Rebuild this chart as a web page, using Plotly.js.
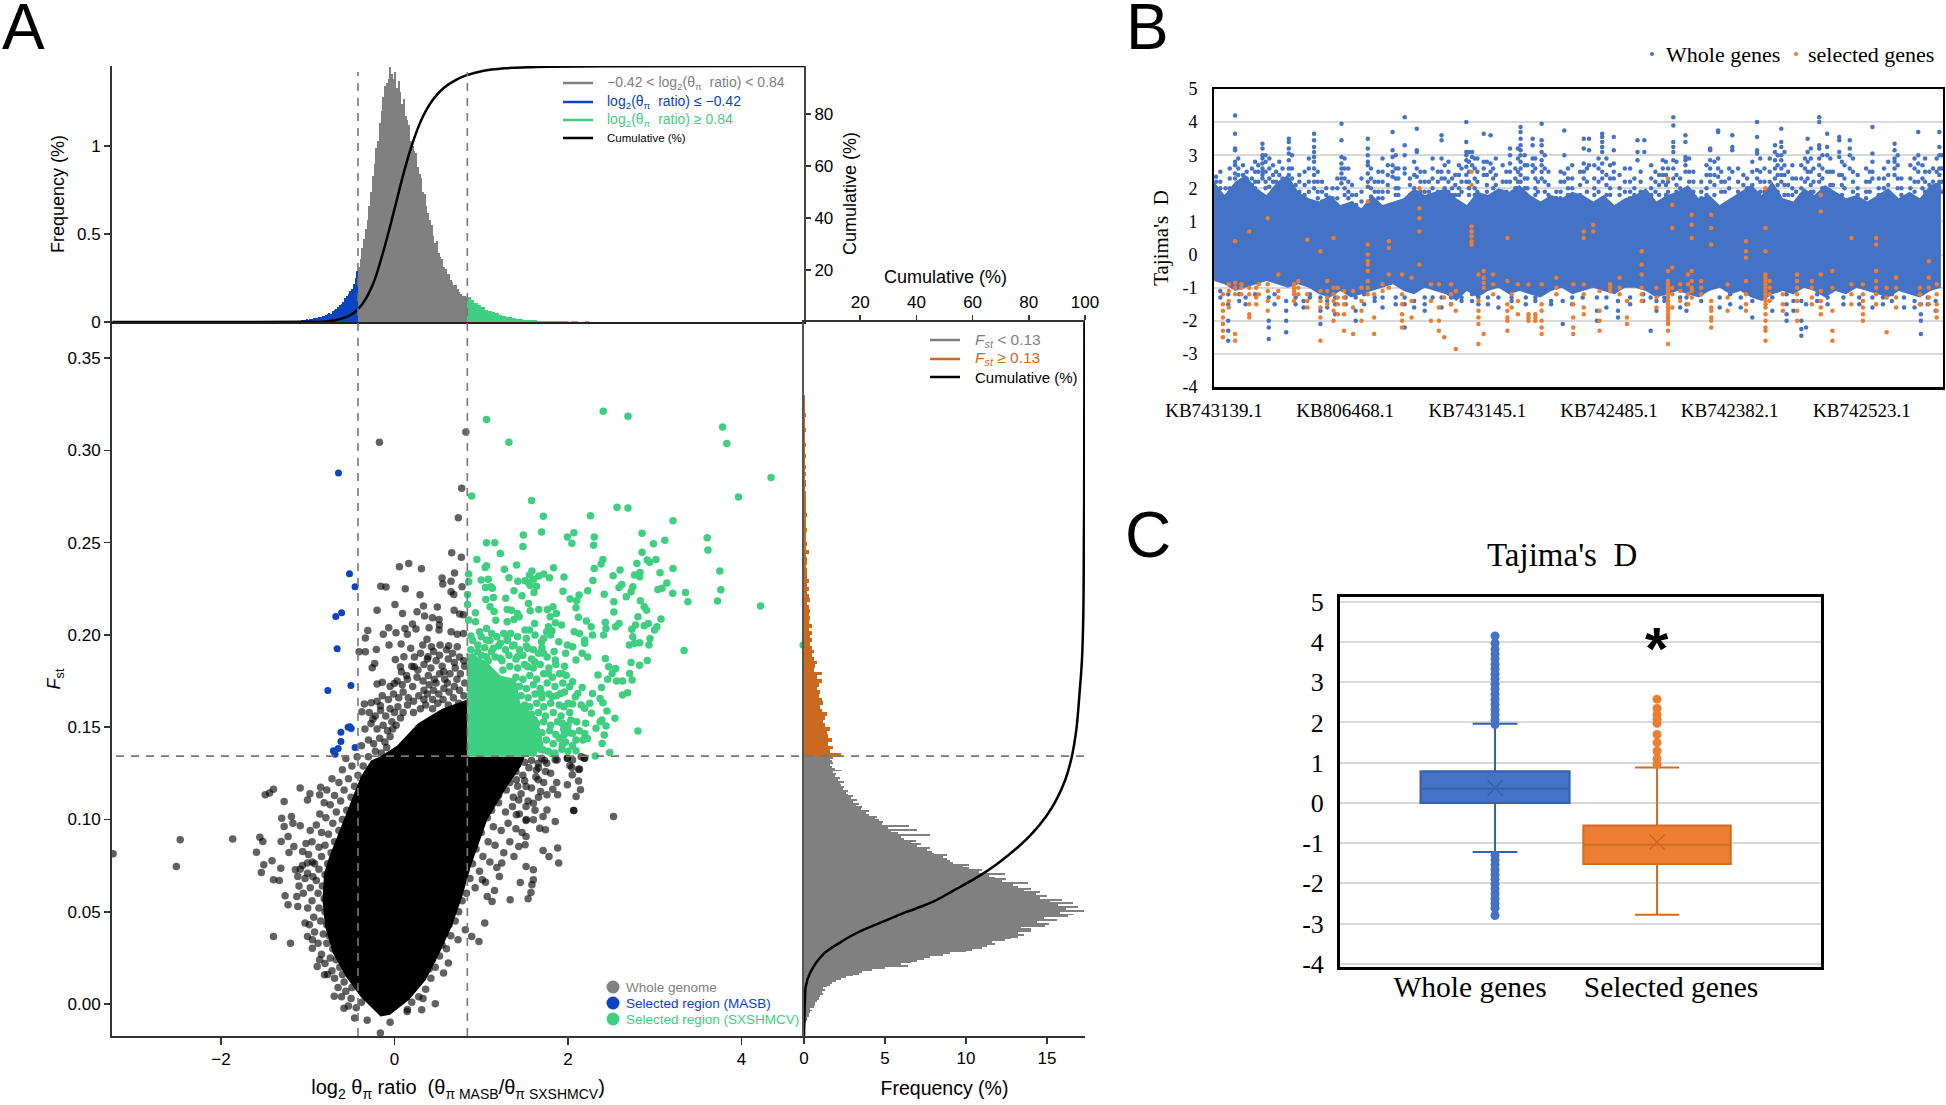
<!DOCTYPE html>
<html><head><meta charset="utf-8">
<script src="https://cdn.plot.ly/plotly-3.0.1.min.js"></script>
<style>html,body{margin:0;padding:0;background:#fff}#p{width:1946px;height:1105px}</style>
</head><body><div id="p"></div>
<script>
// ---------- Panel A: top histogram (% frequency of log2 theta-pi ratio) ----------
const topGrayStart=-0.42, topBlueStart=-1.30, topGreenStart=0.84;
const topGray=[.31,.36,.42,.47,.53,.58,.66,.74,.83,.90,.99,1.03,1.13,1.2,1.28,1.34,1.36,1.38,1.45,1.41,1.38,1.42,1.33,1.37,1.31,1.24,1.27,1.17,1.15,1.12,1.03,1.0,.97,.96,.88,.84,.82,.74,.73,.66,.62,.58,.55,.49,.45,.46,.39,.37,.36,.31,.30,.27,.27,.24,.23,.21,.21,.19,.17,.16,.15,.15,.14];
const topBlue=[.002,.003,.002,.004,.003,.005,.004,.006,.005,.008,.007,.010,.009,.012,.015,.013,.018,.016,.022,.025,.021,.03,.028,.035,.032,.04,.045,.05,.048,.06,.07,.075,.085,.095,.105,.115,.135,.145,.16,.175,.19,.215,.25,.29];
const topGreen=[.14,.125,.11,.095,.085,.07,.06,.055,.05,.04,.035,.03,.028,.022,.018,.017,.013,.012,.009,.011,.007,.006,.008,.005,.004,.006,.003,.004,.003,.002,.003,.004,.002,.002,.003,.001,.002,.001,.002,.001,.001,.002,.001,.001];
const topCumX=[-3.25,-1.0,-.754,-.50,-.374,-.248,-.121,.005,.10,.195,.32,.447,.574,.70,.827,1.016,1.27,1.52,1.775,2.40,4.72];
const topCumY=[0,.05,.26,2.8,6.7,14.5,28,44,56.5,67.5,78.5,85.7,90.2,93,94.9,96.6,97.6,98,98.2,98.4,98.5];
// ---------- Panel A: right histogram (% frequency of Fst) ----------
const rightGrayStart=-0.010, rightOrangeStart=0.134;
const rightGray=[.1,.2,.2,.3,.3,.4,.5,.4,.6,.7,
.7,.8,.9,.9,1.0,1.2,1.1,1.3,1.2,1.4,
1.6,1.7,2.0,2.3,2.6,3.0,3.4,3.6,4.2,5.0,
6.4,6.0,6.6,7.0,7.4,7.8,8.6,9.0,10.0,10.4,
11.0,11.3,11.8,11.6,12.4,12.8,13.2,13.6,13.2,14.0,
14.0,13.4,14.9,15.1,14.4,15.6,14.8,16.3,16.6,15.8,
17.3,16.2,16.9,15.7,16.6,15.2,15.9,14.6,15.0,14.3,
14.6,13.6,14.0,13.2,12.9,13.8,12.2,12.5,11.8,11.4,
12.4,10.8,11.0,10.2,9.8,10.2,9.2,9.0,8.8,8.6,
8.8,8.0,7.9,7.6,7.8,7.0,7.2,6.6,6.9,6.2,
6.0,7.8,5.8,5.4,7.0,5.2,6.5,4.8,4.9,4.6,
4.4,4.5,4.0,3.8,4.0,3.5,3.6,3.2,3.4,3.0,
3.3,2.9,3.0,2.7,2.6,2.7,2.4,2.5,2.3,2.2,
2.5,2.1,2.2,1.9,2.0,1.8,2.3,1.9,1.7,1.6,
1.8,1.7,1.6,1.8];
const rightOrange=[2.3,1.6,1.8,1.5,1.7,1.5,1.4,1.6,1.3,1.2,
1.3,1.4,1.1,1.0,1.2,1.1,.9,1.0,.8,.9,
1.1,.8,1.1,.6,.7,.8,.6,.5,.6,.5,
.4,.5,.4,.5,.3,.5,.3,.4,.3,.4,
.3,.2,.4,.3,.2,.3,.2,.3,.2,.2,
.2,.1,.2,.2,.1,.3,.1,.2,.1,.1,
.1,.2,.1,.1,.1,.2,.1,.1,.1,.1,
.1,.1,.05,.1,.1,.05,.1,.05,.1,.05,
.05,.1,.05,.05,.1,.05,.05,.05,.1,.05,
.05,.05,.1,.05,.05,.05,.05,.05];
const rightCumF=[-.0175,.0032,.0094,.0167,.0271,.0333,.0385,.0451,.0499,.0555,.0613,.0686,.0758,.0852,.0925,.1018,.1101,.1215,.134,.1485,.1692,.1859,.2108,.2523,.273,.3695];
const rightCumV=[0,.35,.6,2.1,6.9,12.8,18.7,28.8,36.5,46,53,61.5,68.6,76.3,81.2,86.2,89.6,93,95.3,96.9,98.1,98.9,99.4,99.6,99.7,99.8];
// ---------- Panel A: main scatter (log2 ratio, Fst) ----------
const denseBlack=[[-.05,-.0058],[.17,.0023],[.36,.013],[.52,.0276],[.66,.042],[.78,.058],[.88,.0745],[1.07,.1],[1.3,.118],[1.46,.129],[1.5,.134],[1.22,.134],[.84,.134],[.84,.165],[.55,.16],[.27,.152],[.03,.14],[-.17,.134],[-.27,.132],[-.39,.123],[-.5,.11],[-.61,.096],[-.69,.087],[-.75,.08],[-.81,.071],[-.83,.0565],[-.8,.042],[-.71,.0276],[-.56,.015],[-.39,.004],[-.16,-.0067]];
const blackPts=[[-.173,.3044],[.823,.3099],[.775,.2795],[.736,.2635],[.66,.2445],[.771,.242],[.057,.2369],[.165,.2387],[.311,.2358],[.692,.2335],[.549,.2308],[.652,.2291],[.557,.2275],[.779,.2261],[.652,.2234],[.684,.2219],[-.157,.2263],[-.097,.2259],[.125,.225],[.295,.2217],[.006,.2165],[.335,.2156],[.494,.2151],[-.2,.2133],[.093,.2116],[.26,.2125],[.347,.2102],[.438,.2093],[.688,.2133],[.752,.2113],[.795,.2109],[.514,.2084],[.518,.2053],[.514,.2026],[.399,.2039],[.653,.2017],[.724,.2003],[.795,.2008],[-.066,.2039],[.018,.2012],[-.129,.2003],[-.307,.2024],[-.335,.1983],[.121,.2035],[.208,.2059],[.248,.2032],[.149,.2003],[.375,.1976],[.526,.1945],[.427,.1936],[.327,.1945],[.077,.195],[-.062,.1945],[.188,.1927],[.625,.1941],[.724,.1936],[-.208,.1921],[-.407,.1909],[-.335,.1909],[.01,.1867],[.109,.1882],[.387,.1882],[-.228,.1845],[-.256,.1822],[.069,.1827],[.228,.1827],[-.2,.1734],[-.14,.1743],[-.002,.1737],[-.347,.1625],[-.268,.1632],[-.161,.1616],[-.375,.1584],[-.248,.1544],
[1.874,.1322],[1.993,.1331],[2.053,.1322],[2.152,.134],[2.192,.1331],[2.045,.1282],[2.124,.1271],[1.755,.1304],[1.696,.1331],[1.636,.1268],
[-3.242,.0814],[-2.469,.089],[-2.514,.0745],[-1.864,.0894],[-1.551,.0904],[-1.517,.0881],[-1.59,.0823],[-1.489,.1134],[-1.439,.1143],[-1.394,.1164],[-1.086,.117],[-.851,.1175],[-.974,.1139],[-1.002,.1106],[-.862,.1134],[-1.271,.1097],[-1.299,.1007],[-1.187,.1016],[-1.271,.0962],[-1.17,.098],[-1.086,.0966],[-1.226,.0908],[-1.305,.0881],[-1.159,.0854],[-1.215,.0821],[-1.058,.0827],[-1.411,.0776],[-1.506,.0755],[-1.534,.0713],[-1.31,.0736],[-1.394,.0673],[-1.327,.067],[-1.142,.0727],[-1.086,.0731],[-1.002,.0764],[-.946,.0769],[-1.002,.0709],[-1.114,.0691],[-1.26,.0587],[-1.125,.0583],[-1.226,.0538],[-1.114,.0529],[-1.394,.0366],[-1.198,.033],[-1.03,.0439],[-1.002,.0366],[-.946,.0303],[-.862,.024],[-.89,.0204],[-.946,.0348],[-.806,.0159],[-.694,.0042],[-.582,-.0022],[-.459,-.0076],[-.314,-.0088],[-.05,-.0099],[-.162,-.0157],[.47,.0002],[.314,-.0031],[.146,-.004],
[.974,.0339],[1.041,.0439],[.89,.0366],[.817,.0403],[.733,.0348],[.621,.0222],[.566,.0168],[1.333,.0565],[1.54,.057],[1.573,.0605],[1.45,.0659],[1.601,.0673],[1.584,.0646],[1.125,.0556],[1.069,.0583],[1.153,.0615],[1.209,.0691],[1.013,.0673],[1.601,.0727],[1.517,.0745],[1.377,.08],[1.237,.0764],[1.433,.0854],[1.893,.0764],[1.881,.0845],[1.781,.08],[1.713,.0832],[1.506,.0863],[1.517,.0908],[1.853,.0989],[1.741,.0944],[1.674,.0953],[1.713,.1016],[1.601,.0998],[1.517,.0995],[1.405,.1025],[2.525,.1016],[2.066,.1049],[2.066,.1049],[1.758,.1052],[1.601,.1088],[1.517,.107],[1.433,.1106],[2.144,.1161],[2.094,.1125],[1.993,.1188],[1.881,.1134],[1.825,.1164],[1.758,.1134],[1.685,.1152],[2.122,.1209],[2.049,.1242],[2.133,.1273],[2.021,.1292],[2.189,.1332],[1.741,.126],[1.657,.1215],[1.517,.1179],[1.405,.1215],[1.853,.1323],[1.993,.1332],[1.657,.1305]];
const blackHaloLeft=[[-.5,.003],[-.44,-.002],[-.38,.001],[-.56,.007],[-.49,.009],[-.61,.004],[-.53,-.001],[-.58,.012],[-.65,.009],[-.6,.016],[-.69,.014],[-.63,.02],[-.72,.018],[-.77,.016],[-.67,.024],[-.74,.025],[-.8,.022],[-.71,.03],[-.78,.033],[-.84,.027],[-.75,.037],[-.82,.038],[-.88,.033],[-.78,.043],[-.85,.045],[-.92,.039],[-.8,.05],[-.87,.052],[-.93,.047],[-.98,.043],[-.81,.057],[-.88,.06],[-.95,.056],[-1.0,.052],[-.83,.064],[-.9,.067],[-.97,.063],[-1.05,.06],[-.8,.07],[-.87,.073],[-.94,.069],[-1.03,.068],[-1.1,.064],[-.77,.076],[-.84,.08],[-.92,.076],[-.99,.081],[-1.06,.075],[-.73,.082],[-.8,.086],[-.87,.085],[-.95,.088],[-1.02,.087],[-.69,.088],[-.76,.092],[-.84,.093],[-.9,.097],[-.97,.094],[-.64,.094],[-.71,.098],[-.79,.101],[-.86,.103],[-.6,.1],[-.67,.104],[-.74,.108],[-.81,.109],[-.55,.105],[-.62,.11],[-.69,.113],[-.78,.116],[-.5,.112],[-.58,.116],[-.64,.12],[-.72,.122],[-.46,.118],[-.53,.122],[-.6,.127],[-.42,.124],[-.49,.129],[-.56,.133],[-.36,.129],[-.43,.134]];
const blackHaloTop=[[-.3,.134],[-.22,.137],[-.15,.136],[-.09,.139],[-.38,.14],[-.3,.143],[-.24,.141],[-.17,.144],[-.11,.142],[-.05,.145],[-.02,.149],[-.34,.149],[-.27,.152],[-.2,.149],[-.13,.151],[-.08,.148],[-.03,.153],[.02,.151],[.07,.155],[-.29,.158],[-.22,.156],[-.16,.159],[-.1,.156],[-.05,.16],[0,.158],[.04,.161],[.1,.158],[.15,.162],[-.2,.164],[-.14,.167],[-.07,.165],[-.01,.168],[.05,.166],[.1,.169],[.16,.166],[.22,.164],[.28,.167],[.34,.17],[.4,.173],[-.05,.172],[.03,.175],[.09,.173],[.15,.176],[.21,.172],[.26,.177],[.33,.175],[.39,.178],[.46,.176],[.52,.179],[.58,.176],[.64,.179],[.7,.182],[.76,.179],[.81,.183],[.08,.18],[.14,.178],[.2,.183],[.27,.181],[.34,.184],[.42,.182],[.48,.186],[.55,.183],[.62,.187],[.69,.185],[.75,.188],[.8,.186],[.23,.188],[.3,.19],[.38,.187],[.45,.191],[.52,.189],[.6,.192],[.67,.19],[.3,.16],[.36,.162],[.44,.16],[.5,.163],[.56,.165],[.62,.162],[.68,.166],[.74,.163],[.8,.167],[.38,.168],[.45,.17],[.51,.168],[.57,.171],[.63,.169],[.69,.172],[.75,.17],[.81,.174],[.22,.158],[.48,.174],[.57,.18],[.72,.176],[.34,.165],[.44,.165],[.61,.174]];
const blackHaloRight=[[.2,.001],[.28,.004],[.15,-.003],[.36,.008],[.42,.014],[.33,.003],[.4,.019],[.47,.02],[.52,.026],[.44,.024],[.55,.032],[.6,.03],[.65,.037],[.58,.038],[.63,.043],[.7,.045],[.74,.05],[.68,.052],[.78,.056],[.72,.058],[.83,.06],[.78,.066],[.87,.068],[.93,.063],[.82,.072],[.9,.076],[.98,.072],[1.05,.066],[.86,.082],[.94,.084],[1.02,.08],[1.1,.077],[1.18,.074],[.92,.09],[1.0,.093],[1.08,.088],[1.16,.086],[1.26,.082],[1.33,.088],[.98,.098],[1.07,.101],[1.14,.096],[1.23,.094],[1.31,.098],[1.4,.095],[1.47,.093],[1.12,.105],[1.2,.109],[1.28,.104],[1.36,.107],[1.44,.103],[1.52,.1],[1.2,.113],[1.29,.116],[1.37,.112],[1.46,.114],[1.54,.11],[1.62,.105],[1.33,.12],[1.42,.118],[1.5,.121],[1.58,.117],[1.66,.112],[1.4,.126],[1.48,.124],[1.55,.128],[1.63,.123],[1.72,.12],[1.5,.131],[1.58,.132],[1.66,.128],[1.73,.132],[1.8,.125],[1.87,.12]];
const bluePts=[[-.645,.2877],[-.518,.2331],[-.454,.2261],[-.609,.212],[-.676,.21],[-.66,.1925],[-.502,.1726],[-.768,.1699],[-.514,.1502],[-.498,.1493],[-.534,.1499],[-.617,.1473],[-.617,.1423],[-.454,.139],[-.649,.1385],[-.704,.1372],[-.684,.1354]];
const denseGreen=[[.84,.134],[1.55,.134],[1.72,.14],[1.65,.155],[1.45,.163],[1.4,.176],[1.22,.178],[1.05,.186],[.84,.19]];
const greenPts=[[1.061,.3167],[2.406,.3212],[2.691,.3185],[3.782,.3126],[3.83,.3037],[1.319,.3043],[4.34,.2853],[3.965,.2747],[.89,.2752],[1.58,.2728],[2.565,.2691],[2.691,.2687],[1.716,.2642],[2.259,.2645],[3.211,.2618],[1.696,.2557],[1.485,.2541],[2.068,.2553],[1.993,.253],[2.303,.253],[2.854,.255],[3.116,.2512],[3.604,.2526],[3.612,.246],[1.061,.2499],[1.156,.2499],[1.481,.2479],[2.045,.2497],[2.295,.2485],[2.985,.2494],[1.22,.2441],[2.854,.2447],[.95,.2409],[2.914,.2405],[2.941,.2394],[3.013,.2409],[2.402,.2409],[2.382,.2384],[2.794,.2387],[1.406,.2378],[1.061,.2375],[1.045,.2365],[1.834,.2364],[2.303,.236],[3.211,.236],[1.267,.2355],[2.6,.2351],[3.75,.2346],[3.06,.2337],[.855,.233],[1.585,.2346],[1.557,.2324],[1.72,.233],[1.664,.2319],[1.954,.2313],[2.52,.232],[2.83,.2338],[2.767,.2324],[2.826,.2315],[1.319,.231],[1.787,.231],[1.604,.2302],[1.0,.2297],[1.081,.2301],[.855,.2288],[1.422,.229],[1.505,.2293],[1.545,.2282],[1.565,.2268],[2.287,.2295],[3.139,.2281],[3.084,.2252],[3.036,.2246],[2.62,.2273],[2.588,.2257],[2.747,.2261],[2.727,.2234],[1.049,.2257],[1.109,.2261],[1.128,.2252],[1.636,.2264],[1.378,.2239],[1.608,.223],[1.942,.2236],[2.227,.2239],[2.128,.2216],[3.207,.2225],[3.354,.223],[3.762,.2245],[2.418,.222],[.843,.2219],[1.47,.2212],[2.671,.2207],[1.14,.2203],[1.053,.2192],[1.283,.2198],[2.025,.2194],[2.1,.2185],[3.382,.218],[3.723,.2183],[2.834,.2185],[2.878,.2152],[2.906,.2134],[2.529,.218],[.843,.2165],[1.545,.217],[1.101,.2152],[1.148,.2127],[2.092,.2147],[4.22,.2156],[1.827,.2152],[1.763,.2138],[1.866,.2116],[1.299,.2138],[1.347,.2134],[1.418,.2116],[1.664,.2138],[1.565,.2131],[2.529,.2124],[.934,.212],[2.806,.2098],[2.12,.2095],[1.795,.2098],[3.072,.2086],[2.925,.2062],[2.878,.205],[3.025,.2044],[2.997,.2026],[.855,.208],[.934,.2071],[1.168,.2079],[1.299,.2071],[1.378,.2084],[1.438,.2098],[1.616,.2062],[1.854,.2066],[1.926,.2053],[2.211,.2075],[2.267,.2044],[2.43,.2068],[2.438,.2035],[2.588,.2062],[2.549,.2044],[2.779,.2053],[2.735,.203],[1.775,.2044],[1.755,.2017],[1.815,.2022],[1.505,.2026],[1.557,.2026],[1.061,.2035],[.982,.2017],[1.121,.2008],[1.26,.2008],[1.339,.2008],[2.072,.2017],[2.132,.2008],[2.192,.1972],[2.283,.2],[2.41,.2],[2.747,.199],[2.767,.1954],[.882,.1994],[.962,.1945],[1.061,.1972],[1.22,.1954],[1.299,.198],[1.14,.1927],[1.378,.1945],[1.537,.1927],[1.696,.1963],[1.894,.1963],[1.993,.1945],[2.053,.1936],[2.192,.1954],[2.945,.1981],[2.826,.1958],[2.933,.1945],[2.707,.1945],[3.338,.1916],[4.71,.1945],[1.716,.19],[1.973,.19],[2.164,.19],[2.227,.188],[2.43,.1872],[2.469,.1827],[2.549,.1818],[2.509,.1791],[2.727,.1851],[2.826,.1836],[2.914,.1861],[.902,.1882],[1.061,.1882],[1.22,.1873],[1.418,.1882],[1.616,.1855],[1.854,.1864],[2.092,.1864],[2.711,.1791],[2.739,.1755],[2.628,.175],[2.56,.175],[2.457,.1759],[2.346,.1782],[1.934,.1791],[2.053,.1746],[1.775,.1791],[1.537,.1827],[2.386,.1715],[2.164,.1715],[2.112,.1683],[2.084,.1665],[2.283,.1683],[2.687,.1687],[2.628,.1674],[2.37,.1656],[2.402,.1632],[1.914,.1683],[1.815,.1665],[1.696,.1683],[2.152,.162],[2.192,.1602],[2.251,.1629],[2.271,.1575],[2.053,.1625],[1.954,.1611],[2.449,.1587],[2.541,.1548],[2.39,.1539],[2.37,.153],[2.203,.1521],[2.323,.1494],[2.438,.1506],[2.033,.1539],[1.934,.1521],[1.993,.1494],[2.806,.1479],[2.192,.1466],[2.418,.1457],[2.394,.1412],[2.053,.1466],[1.954,.1457],[2.092,.143],[2.172,.143],[2.223,.1439],[2.481,.1363],[2.092,.1372],[2.314,.1344],[1.934,.1403],[1.815,.1358],[1.577,.1363],[1.716,.1376]];
const greenDense=[[1.6,.136],[1.68,.138],[1.77,.137],[1.85,.136],[1.93,.138],[2.0,.137],[1.75,.143],[1.83,.141],[1.9,.144],[1.97,.142],[2.05,.14],[1.7,.147],[1.79,.148],[1.86,.146],[1.95,.149],[2.02,.147],[2.13,.148],[1.64,.152],[1.72,.153],[1.8,.151],[1.88,.153],[2.0,.151],[2.1,.153],[1.58,.157],[1.66,.158],[1.74,.156],[1.83,.158],[1.92,.156],[2.02,.158],[1.5,.162],[1.56,.161],[1.64,.163],[1.72,.161],[1.8,.163],[1.9,.162],[2.0,.163],[1.46,.167],[1.54,.166],[1.62,.168],[1.7,.166],[1.78,.168],[1.87,.167],[1.96,.169],[1.44,.172],[1.52,.171],[1.6,.173],[1.68,.171],[1.76,.174],[1.85,.172],[1.94,.174],[2.02,.172],[1.4,.177],[1.48,.176],[1.56,.178],[1.64,.176],[1.72,.179],[1.82,.177],[1.9,.179],[1.98,.178],[1.25,.181],[1.33,.183],[1.42,.182],[1.5,.184],[1.6,.182],[1.68,.184],[1.78,.182],[1.86,.184],[1.96,.183],[.92,.187],[1.0,.189],[1.08,.186],[1.16,.188],[1.24,.186],[1.32,.189],[1.4,.187],[1.48,.189],[1.58,.187],[1.66,.19],[1.76,.188],[.88,.192],[.96,.191],[1.04,.193],[1.12,.191],[1.2,.194],[1.28,.192],[1.36,.194],[1.44,.192],[1.52,.194],[1.6,.192],[1.7,.193],[1.84,.191],[.9,.197],[1.0,.199],[1.1,.197],[1.18,.199],[1.3,.197],[1.42,.199],[1.52,.198],[1.62,.2],[1.72,.198],[1.8,.2]];
// ---------- Panel B: Tajima's D along the genome ----------
const bandStep=20;
const bandTop=[2.2,1.8,2.2,2.4,2.0,1.8,2.2,2.4,1.9,1.7,1.6,1.8,1.5,1.6,1.4,1.8,1.5,1.6,1.7,2.0,1.8,1.9,2.0,1.7,1.5,1.9,1.8,2.0,1.9,2.1,1.8,1.6,1.8,1.7,1.9,1.8,1.6,1.8,1.5,1.7,1.8,2.0,1.6,1.8,1.9,2.1,1.7,1.8,1.5,1.7,1.9,2.1,1.8,2.2,1.7,1.6,2.0,1.8,2.1,1.9,1.7,1.8,1.6,1.8,2.0,1.7,1.9,1.7,2.1,2.2];
const bandBottom=[-.8,-.9,-1.1,-1.0,-.9,-.8,-.9,-1.0,-.9,-1.0,-1.2,-1.3,-1.1,-1.3,-1.2,-1.1,-1.0,-.9,-1.1,-1.2,-1.0,-1.1,-1.2,-1.4,-1.1,-1.3,-1.1,-1.0,-1.2,-1.1,-1.2,-1.3,-1.1,-1.0,-1.2,-1.1,-1.0,-1.1,-1.2,-1.0,-1.0,-1.1,-1.3,-1.2,-1.1,-1.2,-1.3,-1.1,-1.0,-1.2,-1.1,-1.3,-1.4,-1.2,-1.1,-1.2,-1.0,-1.1,-1.3,-1.1,-1.2,-1.0,-1.1,-1.2,-1.3,-1.1,-1.2,-1.3,-1.1,-1.0];
const wholeStreaks=[[40,[4.2,3.65,3.2,3.15,2.8,2.7,2.45,2.3]],[92,[3.35,3.2,3.0,2.9,2.75,2.6,2.5,2.4,2.3]],[142,[3.5,3.4,3.2,3.05,2.85,2.6,2.4,2.2,2.05]],[190,[3.65,3.45,3.25,3.1,2.95,2.8,2.6,2.4,2.2,2.0]],[242,[3.95,3.45,2.95,2.75,2.6,2.45,2.3,2.15]],[292,[3.5,3.2,3.0,2.8,2.7,2.45,2.2,2.05]],[339,[3.7,3.15,2.95,2.7,2.5,2.35]],[362,[4.15,3.3,3.0,2.6,2.45]],[385,[3.8,3.1,3.15,2.6,2.35]],[432,[3.6,3.45,2.9,2.5,2.3]],[479,[4.0,3.4,3.1,3.0,2.85,2.65,2.4,2.2]],[490,[3.1,2.95,2.7]],[512,[3.65,2.8,2.6,2.4]],[525,[3.6,2.75,2.5]],[562,[3.2,3.0,2.75,2.5,2.2]],[582,[3.85,3.7,3.5,3.3,3.15,3.0,2.8,2.6,2.4,2.2]],[605,[3.5,3.3,2.9,2.7,2.5]],[622,[3.95,3.45,3.3,3.1,2.85,2.7,2.5,2.3]],[665,[3.75,3.0,2.45,2.2]],[702,[3.5,3.2,2.75,2.5,2.3]],[712,[3.5,3.15,2.7]],[737,[3.65,3.55,3.4,3.25,3.1,2.75,2.5,2.3]],[759,[3.55,3.15,2.75,2.5,2.3]],[804,[3.45,3.1,2.85]],[817,[3.45,3.1]],[852,[2.85,2.6,2.4,2.2]],[872,[4.15,3.9,3.4,3.25,3.1,2.85,2.6,2.3]],[895,[3.6,3.4,2.95,2.85,2.7,2.5]],[942,[3.2,3.15,2.85,2.6,2.4,2.2]],[957,[3.75,3.7,2.9,2.6,2.35]],[984,[3.6,3.25,3.15,2.5]],[1031,[4.0,3.55,3.15,3.05,2.55,2.3]],[1077,[3.8,3.4,3.25,3.0,2.85,2.6,2.4,2.2]],[1065,[3.3,3.1,2.85,2.6,2.3]],[1127,[3.5,3.1,2.8,2.5,2.3]],[1149,[4.15,4.0,3.3,3.2,2.9,2.7,2.4,2.2]],[1164,[3.65,3.25,3.0,2.5]],[1187,[3.55,3.45,3.1,2.95,2.4]],[1207,[3.45,3.2,3.0,2.6]],[1250,[3.85,3.05,2.8,2.5,2.3]],[1292,[3.35,3.15,2.9,2.8,2.6,2.4]],[1337,[3.7,3.0,2.75,2.5,2.2]],[1377,[3.7,3.25,3.0,2.6,2.4,2.2]],
[4,[2.2,1.95,2.35]],[12,[2.5,2.2,2.0]],[22,[2.0,1.75,1.6]],[30,[2.6,2.3,2.0,1.8]],[46,[2.9,2.6,2.4,2.1,1.9]],[55,[2.7,2.4,2.2,2.0]],[62,[2.5,2.3,2.0]],[72,[2.6,2.3,2.1,1.9]],[78,[2.8,2.5,2.2,2.0]],[84,[2.7,2.5,2.2,1.9]],[98,[3.0,2.8,2.5,2.2,2.0]],[105,[2.9,2.6,2.3,2.05,1.8]],[112,[2.7,2.4,2.2,1.9]],[118,[2.5,2.2,1.9,1.75]],[124,[2.8,2.4,2.1,1.9]],[130,[2.6,2.3,2.0,1.8]],[148,[3.0,2.6,2.3,2.0]],[155,[2.1,1.9,1.7]],[162,[2.4,2.2,1.9]],[172,[2.5,2.1,1.8]],[180,[2.9,2.6,2.2,1.9]],[197,[2.5,2.2,1.9,1.7]],[205,[2.2,1.9,1.6]],[213,[2.0,1.8,1.55]],[225,[2.0,1.7,1.5]],[234,[2.3,2.0,1.7]],[248,[2.9,2.6,2.3,2.0,1.8]],[255,[2.6,2.2,1.9,1.7]],[262,[2.1,1.8,1.55]],[270,[1.8,1.5]],[280,[2.3,1.9,1.6]],[298,[2.6,2.3,2.0,1.75]],[305,[2.2,1.9,1.6]],[312,[2.5,2.2,1.9,1.7]],[320,[2.9,2.5,2.2,1.9,1.7]],[330,[2.7,2.4,2.1,1.9]],[345,[3.0,2.6,2.3,2.0,1.8]],[350,[2.6,2.3,2.0,1.8]],[372,[2.3,2.1,1.8]],[380,[2.8,2.4,2.0,1.8]],[392,[2.5,2.2,1.9]],[400,[2.5,2.2,1.9,1.7]],[408,[2.2,1.9,1.7]],[415,[2.9,2.6,2.3,2.0,1.8]],[425,[2.5,2.2,1.9]],[438,[2.7,2.3,2.0,1.8]],[445,[2.8,2.5,2.2,1.9,1.7]],[452,[2.3,2.0,1.8]],[458,[2.4,2.1,1.8]],[465,[2.7,2.4,2.0,1.8]],[470,[2.6,2.2,1.9]],[484,[3.1,2.8,2.5,2.2,2.0,1.8]],[495,[2.9,2.6,2.3,2.0,1.8]],[500,[2.9,2.5,2.2,1.9]],[518,[2.8,2.4,2.1,1.9]],[530,[2.6,2.3,2.0,1.8]],[535,[2.9,2.4,2.1,1.8]],[548,[2.7,2.2,1.9]],[555,[2.5,2.2,1.9]],[572,[2.6,2.3,2.0,1.8]],[577,[3.2,2.9,2.5,2.2,2.0]],[590,[3.0,2.7,2.3,2.0,1.8]],[595,[2.7,2.3,2.0]],[610,[2.9,2.6,2.3,2.0,1.8]],[615,[2.2,1.9]],[628,[3.0,2.6,2.2,1.9]],[635,[2.5,2.1,1.8]],[650,[1.9,1.7]],[658,[2.5,2.2,1.9,1.7]],[672,[2.6,2.3,2.0,1.8]],[680,[2.7,2.3,2.0,1.8]],[695,[2.5,2.1,1.8]],[708,[2.6,2.2,1.9]],[722,[2.7,2.3,2.0,1.8]],[730,[2.9,2.6,2.2,1.9]],[745,[2.9,2.4,2.1,1.8]],[752,[2.7,2.3,2.0,1.8]],[770,[2.4,2.0,1.8]],[780,[2.6,2.2,1.9]],[790,[2.6,2.2,1.9,1.7]],[798,[2.3,2.0,1.8]],[810,[2.5,2.2,1.9]],[830,[2.7,2.3,2.0,1.8]],[838,[2.5,2.2,1.9]],[845,[2.4,2.1,1.8]],[858,[2.8,2.4,2.1,1.8]],[862,[2.6,2.2,1.9]],[878,[2.8,2.4,2.1,1.9]],[885,[2.3,2.0,1.8]],[902,[2.9,2.5,2.2,1.9]],[910,[2.5,2.2,1.9]],[925,[2.2,1.9,1.7]],[935,[2.7,2.4,2.0,1.8]],[950,[2.8,2.4,2.1,1.8]],[963,[2.5,2.2,1.9]],[970,[2.2,1.9]],[978,[2.6,2.3,2.0]],[995,[2.6,2.2,1.9,1.7]],[1005,[2.4,2.1,1.8]],[1012,[2.3,2.0,1.8]],[1022,[2.8,2.5,2.1,1.9]],[1037,[2.9,2.5,2.2,1.9]],[1045,[2.6,2.2,1.9]],[1055,[2.9,2.5,2.2,1.9]],[1070,[3.0,2.7,2.4,2.1,1.9]],[1083,[3.1,2.7,2.4,2.1,1.8]],[1090,[2.5,2.1,1.8]],[1098,[2.7,2.3,2.0,1.8]],[1105,[2.3,1.9]],[1115,[2.7,2.3,2.0,1.8]],[1122,[2.9,2.6,2.2,1.9]],[1133,[3.2,2.9,2.5,2.1,1.9]],[1138,[2.6,2.2,1.9,1.7]],[1155,[3.0,2.6,2.3,2.0]],[1170,[2.9,2.5,2.1,1.9]],[1175,[2.5,2.1,1.8]],[1192,[2.8,2.4,2.1,1.8]],[1197,[2.7,2.3,2.0]],[1213,[2.9,2.5,2.2,1.9]],[1222,[2.4,2.0,1.8]],[1238,[2.6,2.2,1.9,1.7]],[1245,[2.5,2.2,1.9]],[1262,[2.3,2.0,1.8]],[1272,[2.6,2.3,2.0]],[1280,[2.8,2.4,2.1,1.9]],[1298,[3.0,2.7,2.3,2.0]],[1305,[2.3,2.0,1.8]],[1322,[2.7,2.3,2.0,1.8]],[1330,[2.9,2.6,2.2,1.9]],[1345,[2.7,2.3,2.0]],[1350,[2.9,2.5,2.2,1.9]],[1358,[2.5,2.1,1.8]],[1365,[2.6,2.2,1.9]],[1372,[2.9,2.5,2.1,1.9]],[1382,[3.0,2.6,2.2,1.9]],
[27,[-1.5,-2.0,-2.3,-2.6,-1.2]],[104,[-2.0,-2.2,-2.55,-1.3]],[137,[-1.7,-2.0,-2.35,-1.4]],[202,[-1.7,-2.1,-1.3]],[269,[-1.3,-1.7,-2.0]],[362,[-1.5,-2.2,-1.3]],[400,[-1.3,-1.5,-1.7]],[432,[-1.3,-1.6]],[502,[-1.5,-1.3]],[592,[-1.3,-1.5]],[662,[-1.4,-2.1]],[727,[-1.7,-2.0,-1.3]],[767,[-1.4,-1.7,-1.9]],[829,[-2.3,-1.3]],[897,[-1.5,-1.7,-1.3]],[1022,[-1.4,-1.9]],[1087,[-1.2,-1.5,-1.8,-2.0]],[1115,[-2.0,-2.25,-2.45,-1.4]],[1124,[-2.2,-1.5]],[1195,[-1.3,-1.5]],[1287,[-1.2,-1.4]],[1342,[-1.5,-1.8,-2.0,-2.4]],[60,[-1.3,-1.5]],[170,[-1.4,-1.6]],[230,[-1.3,-1.5,-1.8]],[320,[-1.3,-1.6]],[470,[-1.3,-1.4]],[540,[-1.3,-1.6]],[640,[-1.4,-1.5]],[840,[-1.4,-1.7]],[960,[-1.3,-1.6]],[1060,[-1.3,-1.7]],[1250,[-1.3,-1.6]],[1370,[-1.4,-1.7]],
[12,[-1.1,-1.3]],[48,[-1.2,-1.4]],[78,[-1.2]],[115,[-1.2,-1.5]],[155,[-1.3,-1.5]],[182,[-1.3,-1.2]],[215,[-1.3,-1.4,-1.6]],[250,[-1.3,-1.5]],[285,[-1.2,-1.5]],[305,[-1.3,-1.4]],[345,[-1.3,-1.5]],[380,[-1.4,-1.6]],[415,[-1.3]],[450,[-1.3,-1.5]],[490,[-1.2,-1.4]],[520,[-1.3,-1.5]],[565,[-1.3,-1.4]],[610,[-1.3,-1.4]],[680,[-1.3,-1.5]],[700,[-1.3]],[745,[-1.3,-1.6]],[790,[-1.3,-1.5]],[815,[-1.2,-1.4]],[855,[-1.3,-1.4]],[885,[-1.3,-1.6]],[925,[-1.2,-1.4]],[980,[-1.2,-1.5]],[1000,[-1.3,-1.6]],[1040,[-1.3]],[1100,[-1.4,-1.7]],[1145,[-1.2,-1.4]],[1165,[-1.3,-1.5]],[1225,[-1.3,-1.5]],[1270,[-1.3,-1.5]],[1310,[-1.3,-1.6]],[1330,[-1.4,-1.6]],[1355,[-1.3,-1.5]]];
const selectedStreaks=[[17,[-1.9,-2.1,-2.5,-1.5,-1.2,-1.7,-2.3]],[28,[-1.1,-1.4,-1.6,-.9]],[40,[-2.4,-2.6,-.85,-1.0,.4,-1.2]],[52,[-1.0,-1.2,-.9]],[67,[-1.5,-1.8,-1.9,-1.2,.7,-1.0]],[80,[-1.0,-1.3,-1.5]],[102,[-1.4,-1.7,-.9,1.1,-1.1]],[122,[-1.1,-.6,-1.3]],[152,[-1.0,-1.1,-1.4,-.9,-1.2]],[160,[-1.0,-1.2,-.8]],[177,[-1.4,-1.6,.45,-1.2]],[202,[-1.6,-1.9,-2.6,.1,-1.1,-1.4]],[215,[-.8,-1.1,-1.3,-1.5]],[227,[-1.0,-1.2,-1.4,-1.7,-2.0,.5]],[235,[-1.0,-1.3,-1.5,-1.8]],[247,[-1.1,-1.5,-1.8,-2.3,-1.3]],[264,[-1.6,-2.4,-1.1]],[280,[-1.0,-1.4,-1.7,-2.0]],[292,[-.3,.3,0,-.8,-1.2,1.6,-1.0,-.5,-.2]],[304,[-1.9,-2.4,-1.2]],[332,[.4,.2,-.6,-1.0]],[357,[-1.2,-1.5,-1.8,-2.0,-.6,-2.2]],[375,[-.7,-1.4,-1.9]],[390,[2.0,1.4,.7,-.3,1.1]],[412,[-1.4,-2.0,-.9]],[427,[-2.0,-2.3,-.9,-1.6]],[437,[-2.5,-1.3]],[459,[-2.85,-1.7,-1.1]],[489,[2.5,2.1,.85,.7,.4,.3,.55]],[502,[-1.9,-2.1,-2.7,-.6,-1.4,-1.7]],[512,[-.5,-.7,-1.0,-2.4,-.85]],[530,[-.6,-.9,-1.2]],[557,[-1.7,-2.0,-2.3,-.8,.5,-1.5,-1.9]],[565,[-1.2,-1.6]],[577,[-1.4,-1.8,-.9]],[597,[-1.8,-2.0,-.9,-1.9]],[610,[-1.8,-1.9,-2.0]],[622,[-1.5,-2.0,-2.4,-.9,-1.7,-2.2]],[650,[-.7,-1.0,-1.2]],[682,[-1.9,-2.2,-2.4,-.9,-1.5]],[702,[-1.6,-1.8,-.9,.5,.7,-1.2]],[720,[.9,.7]],[732,[-2.0,-2.3,-1.1,-1.7]],[752,[-1.1,-.9,-1.0]],[784,[-2.1,-1.9,-1.4]],[812,[-.3,-.6,-1.0,-1.4,.1,-1.2]],[840,[-1.0,-1.3,-1.6]],[862,[-.8,-1.2,-1.5,-1.8,-2.0,-2.3,-2.7,2.3,-.5,-1.0,-1.7,-.9,-1.1,-1.3,-1.4,-1.6,-1.9,-2.1]],[870,[.8,-.4,-1.0,-1.6,1.5,-1.2]],[885,[-.9,-1.1,-1.4]],[900,[-.6,-.9,-1.2,-1.5]],[907,[1.2,.9,.5,-.5,-1.0,-1.3,-.8,-1.1]],[925,[-.8,-1.0,-1.2]],[944,[1.2,.8,.3,-1.4,-1.7,-2.0,-2.2,-1.6,-1.9]],[975,[-.9,-1.3,-1.7]],[1010,[.4,.1,-.1,-1.2,-1.7,-.8,-1.5]],[1047,[.8,.1,-.6,-.8,-1.0,-1.3,-1.6,-2.0,-2.3,-2.6,-.7,-.9,-1.1,2.0,-1.2,-1.4,-1.5,-1.8,-2.2]],[1055,[-.8,-1.0,-1.2,-1.4]],[1080,[-1.2,-1.5,-1.7]],[1107,[-.8,-1.4,-1.7,-2.0,-.6,-1.0,-1.2]],[1135,[-.8,-1.0,-1.3,-1.5]],[1152,[-1.4,-1.6,-1.8,-.6,1.8,1.3,-1.1]],[1174,[-2.3,-2.6,-.5,-1.0,-1.7]],[1210,[-.9,-1.2,.5,-1.5]],[1232,[-1.2,-1.6,-2.0,-.9,-1.4,-1.8]],[1257,[.3,.5,-.5,-1.2,-1.5,-.8,-1.0]],[1277,[-2.35,-1.0,-1.3]],[1295,[-.7,-1.0,-1.3,-1.6]],[1340,[-1.0,-1.2,-1.5]],[1357,[-.2,-1.0,-1.5,-.7,-1.3]],[1372,[-1.2,-1.5,-1.9,-.9,-1.7]],[85,[-.9,-1.2]],[320,[-.9,-1.1]],[450,[-.9,-1.2,-1.5]],[770,[-.7,-1.0,-1.2]]];
const bTickPos=[0,249,500,750,979,1230];
const bTickText=['KB743139.1','KB806468.1','KB743145.1','KB742485.1','KB742382.1','KB742523.1'];
// ---------- Panel C: Tajima's D box summary ----------
const boxPos=[0,1];
const boxQ1=[0,-1.52], boxMedian=[.35,-1.04], boxQ3=[.79,-.56], boxLow=[-1.22,-2.78], boxHigh=[1.97,.88], boxMean=[.37,-.97];
const wholeOut=[1.95,2.07,2.2,2.32,2.45,2.57,2.7,2.83,2.95,3.08,3.2,3.33,3.45,3.58,3.7,3.82,3.97,4.15,-1.3,-1.42,-1.54,-1.66,-1.78,-1.9,-2.02,-2.14,-2.26,-2.38,-2.5,-2.62,-2.8];
const selOut=[2.58,2.35,2.2,2.08,1.98,1.7,1.5,1.29,1.1,.96];
const cTickPos=[-.154,1.086], cTickText=['Whole genes','Selected genes'];

// ---------- Drawing ----------
const W=1946,H=1105, dx=v=>[v[0]/W,v[1]/W], dy=(t,b)=>[1-b/H,1-t/H];
const px=x=>x/W, py=y=>1-y/H;
const SANS='Liberation Sans, Arial, sans-serif', SERIF='Liberation Serif, Times New Roman, serif';
const GRAY='#808080',BLUE='#0b44bf',GREEN='#3fcf80',ORANGE='#c96a1f',TBLUE='#4472c4',TOR='#ed7d31';
const xs=a=>a.map(p=>p[0]), ys=a=>a.map(p=>p[1]);
const flatX=s=>s.flatMap(c=>c[1].map(()=>c[0])), flatY=s=>s.flatMap(c=>c[1]);
const bandX=bandTop.map((_,i)=>i*bandStep);
const allBlack=blackPts.concat(blackHaloLeft,blackHaloTop,blackHaloRight), allGreen=greenPts.concat(greenDense);

const traces=[
 {type:'bar',x0:topGrayStart,dx:.02,y:topGray,width:.0205,offset:0,marker:{color:GRAY,line:{width:0}},xaxis:'x2',yaxis:'y2'},
 {type:'bar',x0:topBlueStart,dx:.02,y:topBlue,width:.0205,offset:0,marker:{color:BLUE,line:{width:0}},xaxis:'x2',yaxis:'y2'},
 {type:'bar',x0:topGreenStart,dx:.04,y:topGreen,width:.0405,offset:0,marker:{color:GREEN,line:{width:0}},xaxis:'x2',yaxis:'y2'},
 {type:'scatter',mode:'lines',x:topCumX,y:topCumY,line:{color:'#000',width:2.5,shape:'spline'},xaxis:'x2',yaxis:'y3'},
 {type:'bar',orientation:'h',y0:rightGrayStart,dy:.001,x:rightGray,width:.00105,offset:0,marker:{color:GRAY,line:{width:0}},xaxis:'x3',yaxis:'y4'},
 {type:'bar',orientation:'h',y0:rightOrangeStart,dy:.002,x:rightOrange,width:.00205,offset:0,marker:{color:ORANGE,line:{width:0}},xaxis:'x3',yaxis:'y4'},
 {type:'scatter',mode:'lines',x:rightCumV,y:rightCumF,line:{color:'#000',width:2.5,shape:'spline'},xaxis:'x4',yaxis:'y4'},
 {type:'scatter',mode:'lines',x:xs(denseBlack),y:ys(denseBlack),fill:'toself',fillcolor:'#000',line:{width:0,color:'#000'},xaxis:'x',yaxis:'y'},
 {type:'scatter',mode:'markers',x:xs(allBlack),y:ys(allBlack),marker:{color:'rgba(0,0,0,.62)',size:7.5,line:{width:0}},xaxis:'x',yaxis:'y'},
 {type:'scatter',mode:'markers',x:xs(bluePts),y:ys(bluePts),marker:{color:BLUE,size:7,line:{width:0}},xaxis:'x',yaxis:'y'},
 {type:'scatter',mode:'lines',x:xs(denseGreen),y:ys(denseGreen),fill:'toself',fillcolor:GREEN,line:{width:0,color:GREEN},xaxis:'x',yaxis:'y'},
 {type:'scatter',mode:'markers',x:xs(allGreen),y:ys(allGreen),marker:{color:GREEN,size:7.5,line:{width:0}},xaxis:'x',yaxis:'y'},
 {type:'scatter',mode:'lines',x:bandX.concat(bandX.slice().reverse()),y:bandTop.concat(bandBottom.slice().reverse()),fill:'toself',fillcolor:TBLUE,line:{width:0,color:TBLUE},xaxis:'x5',yaxis:'y5'},
 {type:'scatter',mode:'markers',x:flatX(wholeStreaks),y:flatY(wholeStreaks),marker:{color:TBLUE,size:4.5,line:{width:0}},xaxis:'x5',yaxis:'y5'},
 {type:'scatter',mode:'markers',x:flatX(selectedStreaks),y:flatY(selectedStreaks),marker:{color:TOR,size:4.5,line:{width:0}},xaxis:'x5',yaxis:'y5'},
 {type:'box',name:'Whole genes',x:[boxPos[0]],q1:[boxQ1[0]],median:[boxMedian[0]],q3:[boxQ3[0]],lowerfence:[boxLow[0]],upperfence:[boxHigh[0]],width:.92,whiskerwidth:.3,fillcolor:TBLUE,line:{color:'#3460ad',width:2},xaxis:'x6',yaxis:'y6'},
 {type:'box',name:'Selected genes',x:[boxPos[1]],q1:[boxQ1[1]],median:[boxMedian[1]],q3:[boxQ3[1]],lowerfence:[boxLow[1]],upperfence:[boxHigh[1]],width:.91,whiskerwidth:.3,fillcolor:TOR,line:{color:'#cf6c25',width:2},xaxis:'x6',yaxis:'y6'},
 {type:'scatter',mode:'markers',x:wholeOut.map(()=>boxPos[0]),y:wholeOut,marker:{color:TBLUE,size:9,line:{width:0}},xaxis:'x6',yaxis:'y6'},
 {type:'scatter',mode:'markers',x:selOut.map(()=>boxPos[1]),y:selOut,marker:{color:TOR,size:9,line:{width:0}},xaxis:'x6',yaxis:'y6'},
 {type:'scatter',mode:'markers',x:[boxPos[0]],y:[boxMean[0]],marker:{symbol:'x-thin',size:15,line:{width:1.5,color:'#3460ad'}},xaxis:'x6',yaxis:'y6'},
 {type:'scatter',mode:'markers',x:[boxPos[1]],y:[boxMean[1]],marker:{symbol:'x-thin',size:15,line:{width:1.5,color:'#c9661f'}},xaxis:'x6',yaxis:'y6'}
];
const tf={family:SANS,size:17,color:'#000'}, sf=s=>({family:SERIF,size:s,color:'#000'});
const xRange=[-3.255,4.72], fstRange=[-.0173,.3695];
const ann=(text,x,y,font,extra)=>Object.assign({text,xref:'paper',yref:'paper',x:px(x),y:py(y),xanchor:'left',yanchor:'middle',showarrow:false,font},extra||{});
const layout={width:W,height:H,margin:{l:0,r:0,t:0,b:0,pad:0},paper_bgcolor:'#fff',plot_bgcolor:'rgba(0,0,0,0)',showlegend:false,barmode:'overlay',bargap:0,
 xaxis:{domain:dx([112,804]),range:xRange,anchor:'y',tickvals:[-2,0,2,4],ticks:'outside',ticklen:7,tickwidth:1.5,tickcolor:'#333',showline:true,linecolor:'#333',linewidth:2,showgrid:false,zeroline:false,tickfont:tf,
  title:{text:'log<sub>2</sub> θ<sub>π</sub> ratio\u00a0 (θ<sub>π MASB</sub>/θ<sub>π SXSHMCV</sub>)',font:{family:SANS,size:20,color:'#000'},standoff:12}},
 yaxis:{domain:dy(322,1036),range:fstRange,anchor:'x',tickvals:[0,.05,.1,.15,.2,.25,.3,.35],tickformat:'.2f',ticks:'outside',ticklen:6,tickwidth:1.5,tickcolor:'#333',showline:true,linecolor:'#333',linewidth:2,showgrid:false,zeroline:false,tickfont:tf,
  title:{text:'<i>F</i><sub>st</sub>',font:{family:SANS,size:18,color:'#000'},standoff:2}},
 xaxis2:{domain:dx([112,804]),range:xRange,anchor:'y2',showticklabels:false,ticks:'',showline:true,linecolor:'#222',linewidth:2,showgrid:false,zeroline:false},
 yaxis2:{domain:dy(66,322),range:[0,1.455],anchor:'x2',tickvals:[0,.5,1],ticktext:['0','0.5','1'],ticks:'outside',ticklen:6,tickwidth:1.5,tickcolor:'#333',showline:true,linecolor:'#333',linewidth:2,showgrid:false,zeroline:false,tickfont:tf,
  title:{text:'Frequency (%)',font:{family:SANS,size:18,color:'#000'},standoff:8}},
 yaxis3:{domain:dy(66,322),range:[0,98.5],overlaying:'y2',anchor:'x2',side:'right',tickvals:[20,40,60,80],ticks:'outside',ticklen:5,tickwidth:1.5,tickcolor:'#333',showline:true,linecolor:'#444',linewidth:2,showgrid:false,zeroline:false,tickfont:tf},
 xaxis3:{domain:dx([804,1085]),range:[0,17.35],anchor:'y4',tickvals:[0,5,10,15],ticks:'outside',ticklen:6,tickwidth:1.5,tickcolor:'#333',showline:true,linecolor:'#333',linewidth:2,showgrid:false,zeroline:false,tickfont:tf,
  title:{text:'Frequency (%)',font:{family:SANS,size:19.5,color:'#000'},standoff:14}},
 yaxis4:{domain:dy(322,1036),range:fstRange,anchor:'x3',showticklabels:false,ticks:'',showline:true,linecolor:'#555',linewidth:2,showgrid:false,zeroline:false},
 xaxis4:{domain:dx([804,1085]),range:[0,100],overlaying:'x3',anchor:'y4',side:'top',tickvals:[20,40,60,80,100],ticks:'outside',ticklen:5,tickwidth:1.5,tickcolor:'#333',showline:true,linecolor:'#333',linewidth:2,showgrid:false,zeroline:false,tickfont:tf},
 xaxis5:{domain:dx([1214,1943]),range:[0,1384],anchor:'y5',tickvals:bTickPos,ticktext:bTickText,ticks:'',ticklabelstandoff:5,showline:true,mirror:true,linecolor:'#000',linewidth:2.5,showgrid:false,zeroline:false,tickfont:sf(19)},
 yaxis5:{domain:dy(89,387),range:[-4,5],anchor:'x5',tickvals:[-4,-3,-2,-1,0,1,2,3,4,5],ticktext:['-4','-3','-2','-1','0','1','2','3','4','5'],ticks:'',ticklabelstandoff:11,showline:true,mirror:true,linecolor:'#000',linewidth:2,gridcolor:'#d9d9d9',gridwidth:2,zeroline:false,tickfont:sf(18),
  title:{text:"Tajima's\u00a0 D",font:sf(21),standoff:8}},
 xaxis6:{domain:dx([1340,1821]),range:[-.957,2.012],anchor:'y6',tickvals:cTickPos,ticktext:cTickText,ticks:'',ticklabelstandoff:-8,showline:true,mirror:true,linecolor:'#000',linewidth:3,showgrid:false,zeroline:false,tickfont:sf(29.5)},
 yaxis6:{domain:dy(597,967),range:[-4.08,5.12],anchor:'x6',tickvals:[-4,-3,-2,-1,0,1,2,3,4,5],ticktext:['-4','-3','-2','-1','0','1','2','3','4','5'],ticks:'',ticklabelstandoff:8,showline:true,mirror:true,linecolor:'#000',linewidth:3,gridcolor:'#d9d9d9',gridwidth:2,zeroline:false,tickfont:sf(26)},
 shapes:[
  ...[-.42,.84].map(v=>({type:'line',xref:'x',yref:'paper',x0:v,x1:v,y0:py(1036),y1:py(72),line:{color:'#777',width:1.6,dash:'8px,7px'},layer:'above'})),
  {type:'line',xref:'paper',yref:'y',x0:px(116),x1:px(1085),y0:.1343,y1:.1343,line:{color:'#777',width:1.6,dash:'8px,7px'},layer:'above'},
  ...[[563,83,GRAY],[563,102,BLUE],[563,120,GREEN],[563,138,'#000'],[930,340,GRAY],[930,359,ORANGE],[930,377,'#000']].map(k=>({type:'line',xref:'paper',yref:'paper',x0:px(k[0]),x1:px(k[0]+30),y0:py(k[1]),y1:py(k[1]),line:{color:k[2],width:2.5},layer:'above'})),
  ...[[613,987,GRAY],[613,1003,BLUE],[613,1019,GREEN]].map(k=>({type:'circle',xref:'paper',yref:'paper',x0:px(k[0]-6.5),x1:px(k[0]+6.5),y0:py(k[1]+6.5),y1:py(k[1]-6.5),fillcolor:k[2],line:{width:0},layer:'above'})),
  ...[[1652,54,TBLUE],[1796,54,TOR]].map(k=>({type:'circle',xref:'paper',yref:'paper',x0:px(k[0]-2),x1:px(k[0]+2),y0:py(k[1]+2),y1:py(k[1]-2),fillcolor:k[2],line:{width:0},layer:'above'}))
 ],
 annotations:[
  ...[['A',0,27],['B',1124,27],['C',1123,535]].map(a=>ann(a[0],a[1],a[2],{family:SANS,size:64,color:'#000'})),
  ann('−0.42\u00a0<\u00a0log<sub>2</sub>(θ<sub>π</sub>\u00a0\u00a0ratio)\u00a0<\u00a00.84',605,83,{family:SANS,size:14,color:GRAY}),
  ann('log<sub>2</sub>(θ<sub>π</sub>\u00a0\u00a0ratio)\u00a0≤\u00a0−0.42',605,102,{family:SANS,size:14,color:BLUE}),
  ann('log<sub>2</sub>(θ<sub>π</sub>\u00a0\u00a0ratio)\u00a0≥\u00a00.84',605,120,{family:SANS,size:14,color:GREEN}),
  ann('Cumulative (%)',605,138,{family:SANS,size:11.5,color:'#000'}),
  ann('<i>F<sub>st</sub></i> < 0.13',973,340,{family:SANS,size:15.5,color:GRAY}),
  ann('<i>F<sub>st</sub></i> ≥ 0.13',973,359,{family:SANS,size:15.5,color:ORANGE}),
  ann('Cumulative (%)',973,377,{family:SANS,size:15,color:'#000'}),
  ann('Whole genome',624,987,{family:SANS,size:13.5,color:GRAY}),
  ann('Selected region (MASB)',624,1003,{family:SANS,size:13.5,color:BLUE}),
  ann('Selected region (SXSHMCV)',624,1019,{family:SANS,size:13.5,color:GREEN}),
  ann('Cumulative (%)',850,194,{family:SANS,size:18,color:'#000'},{xanchor:'center',textangle:-90}),
  ann('Cumulative (%)',945,277,{family:SANS,size:18,color:'#000'},{xanchor:'center'}),
  ann('Whole genes',1664,54,sf(22)),
  ann('selected genes',1806,54,sf(22)),
  ann("Tajima's\u00a0 D",1562,555,sf(33),{xanchor:'center'}),
  {text:'<b>*</b>',xref:'x6',yref:'y6',x:boxPos[1],y:3.85,xanchor:'center',yanchor:'middle',showarrow:false,font:{family:SANS,size:60,color:'#000'}}
 ]
};
Plotly.newPlot('p',traces,layout,{displayModeBar:false,staticPlot:true});
</script></body></html>
